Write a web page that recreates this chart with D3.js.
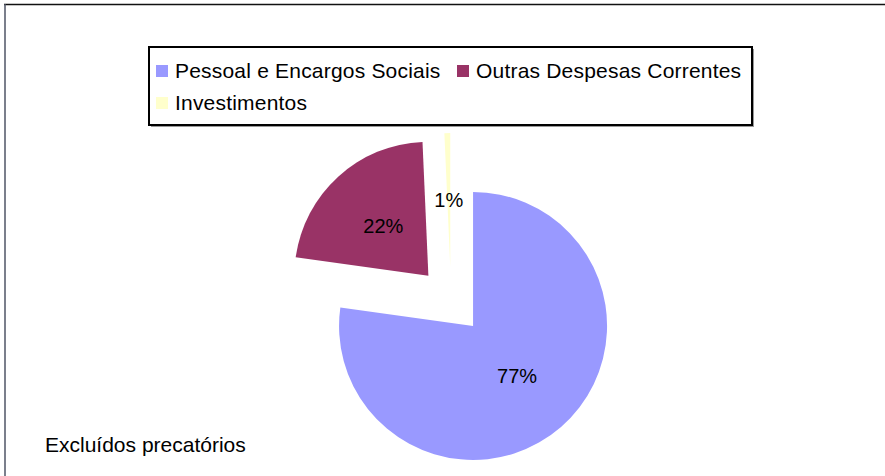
<!DOCTYPE html>
<html>
<head>
<meta charset="utf-8">
<script src="https://cdn.jsdelivr.net/npm/d3@7"></script>
<style>
  body { margin: 0; background: #fff; }
  text { font-family: Arial, "Liberation Sans", sans-serif; }
</style>
</head>
<body>
<div id="chart"></div>
<script>
// Data
const categories = ["Pessoal e Encargos Sociais", "Outras Despesas Correntes", "Investimentos"];
const values = [77.2, 22.1, 0.7];
const colors = ["#9999FF", "#993366", "#FFFFCC"];
const note = "Excluídos precatórios";

const W = 885, H = 476;
const svg = d3.select("#chart").append("svg")
  .attr("width", W)
  .attr("height", H);

// chart frame (cut off at right / bottom)
svg.append("line").attr("x1", 4).attr("x2", W).attr("y1", 4.5).attr("y2", 4.5)
  .attr("stroke", "#111").attr("stroke-width", 1.5);
svg.append("line").attr("x1", 5).attr("x2", 5).attr("y1", 4).attr("y2", H)
  .attr("stroke", "#4f5566").attr("stroke-width", 1.5);

// Pie
const cx = 451, cy = 300.6, radius = 134, explode = 33.6;
const pie = d3.pie().sort(null).value(d => d.value);
const arc = d3.arc().innerRadius(0).outerRadius(radius);
const data = categories.map((c, i) => ({name: c, value: values[i], color: colors[i]}));
const arcs = pie(data);
const total = d3.sum(values);

const g = svg.append("g").attr("transform", `translate(${cx},${cy})`);

const slices = g.selectAll(".slice")
  .data(arcs)
  .enter()
  .append("g")
  .attr("class", "slice")
  .attr("transform", d => {
    const a = (d.startAngle + d.endAngle) / 2;
    return `translate(${Math.sin(a) * explode},${-Math.cos(a) * explode})`;
  });

slices.append("path")
  .attr("d", arc)
  .attr("fill", d => d.data.color);

slices.append("text")
  .attr("transform", d => `translate(${arc.centroid(d)})`)
  .attr("text-anchor", "middle")
  .attr("dy", "0.35em")
  .style("font-size", "20px")
  .attr("fill", "#000")
  .text(d => Math.round(d.data.value / total * 100) + "%");

// Legend
const legend = svg.append("g");
legend.append("rect")
  .attr("x", 151).attr("y", 49).attr("width", 603).attr("height", 78)
  .attr("fill", "#999");
legend.append("rect")
  .attr("x", 149).attr("y", 47).attr("width", 603).attr("height", 78)
  .attr("fill", "#fff").attr("stroke", "#000").attr("stroke-width", 2);

const legendPos = [[156, 71], [457, 71], [156, 103]];
const items = legend.selectAll(".item")
  .data(data)
  .enter()
  .append("g")
  .attr("class", "item")
  .attr("transform", (d, i) => `translate(${legendPos[i][0]},${legendPos[i][1]})`);

items.append("rect")
  .attr("x", 0).attr("y", -6).attr("width", 12).attr("height", 12)
  .attr("fill", d => d.color);

items.append("text")
  .attr("x", 19)
  .attr("dy", "0.35em")
  .style("font-size", "21px")
  .style("letter-spacing", "0.2px")
  .text(d => d.name);

// note
svg.append("text")
  .attr("x", 45).attr("y", 445)
  .attr("dy", "0.35em")
  .style("font-size", "21px")
  .text(note);
</script>
</body>
</html>
